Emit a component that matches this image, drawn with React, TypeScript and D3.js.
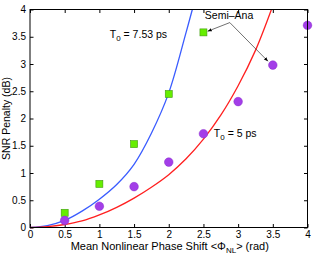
import React, { useEffect, useRef } from "react";
import * as d3 from "d3";

// measured points (semi-analytic)
const sqX = [0.5, 1, 1.5, 2, 2.5];
const sqY = [0.27, 0.8, 1.53, 2.45, 3.58];
const circX = [0.5, 1, 1.5, 2, 2.5, 3, 3.5, 4];
const circY = [0.13, 0.39, 0.75, 1.2, 1.72, 2.31, 2.98, 3.71];

// curves
const blueX = [0, 0.25, 0.5, 0.75, 1, 1.25, 1.5, 1.75, 2, 2.25, 2.34];
const blueY = [0, 0.035, 0.13, 0.3, 0.52, 0.79, 1.16, 1.73, 2.47, 3.58, 4.0];
const redX = [0, 0.25, 0.5, 0.75, 1, 1.25, 1.5, 1.75, 2, 2.25, 2.5, 2.75, 3, 3.25, 3.48];
const redY = [0, 0.015, 0.055, 0.12, 0.23, 0.37, 0.54, 0.74, 0.97, 1.26, 1.62, 2.06, 2.6, 3.25, 4.0];

const xTicks = [0, 0.5, 1, 1.5, 2, 2.5, 3, 3.5, 4];
const yTicks = [0, 0.5, 1, 1.5, 2, 2.5, 3, 3.5, 4];

const App = () => {
  const ref = useRef<HTMLDivElement>(null);

  useEffect(() => {
    const W = 316;
    const H = 258;
    const margin = { top: 9.5, right: 8.5, bottom: 30.5, left: 30 };
    const width = W - margin.left - margin.right;
    const height = H - margin.top - margin.bottom;
    const font = "Liberation Sans, Arial, sans-serif";

    d3.select(ref.current).select("svg").remove();

    const root = d3
      .select(ref.current)
      .append("svg")
      .attr("width", W)
      .attr("height", H)
      .style("position", "absolute")
      .style("left", "0px")
      .style("top", "0px")
      .style("font-family", font);

    root.append("defs")
      .append("marker")
      .attr("id", "arr")
      .attr("viewBox", "0 0 10 10")
      .attr("refX", 10)
      .attr("refY", 5)
      .attr("markerWidth", 6)
      .attr("markerHeight", 6)
      .attr("orient", "auto")
      .append("path")
      .attr("d", "M0,1L10,5L0,9Z")
      .attr("fill", "#000");

    const svg = root
      .append("g")
      .attr("transform", `translate(${margin.left},${margin.top})`);

    const x = d3.scaleLinear().domain([0, 4]).range([0, width]);
    const y = d3.scaleLinear().domain([0, 4]).range([height, 0]);

    svg.append("rect")
      .attr("width", width)
      .attr("height", height)
      .attr("fill", "#fff");

    const tickLen = 3.5;
    const fmt = (d: number) => String(d);

    // bottom axis + top ticks
    const bx = svg.append("g")
      .attr("transform", `translate(0,${height})`)
      .call(d3.axisBottom(x).tickValues(xTicks).tickSize(-tickLen).tickPadding(3).tickFormat((d) => fmt(+d)));
    const tx = svg.append("g")
      .call(d3.axisTop(x).tickValues(xTicks).tickSize(-tickLen).tickFormat(() => ""));
    const ly = svg.append("g")
      .call(d3.axisLeft(y).tickValues(yTicks).tickSize(-tickLen).tickPadding(4).tickFormat((d) => fmt(+d)));
    const ry = svg.append("g")
      .attr("transform", `translate(${width},0)`)
      .call(d3.axisRight(y).tickValues(yTicks).tickSize(-tickLen).tickFormat(() => ""));

    [bx, tx, ly, ry].forEach((g) => {
      g.select(".domain").remove();
      g.selectAll("line").attr("stroke", "#000");
      g.selectAll("text")
        .style("font-family", font)
        .style("font-size", "10px")
        .attr("fill", "#000");
    });

    const line = d3
      .line<[number, number]>()
      .x((d) => x(d[0]))
      .y((d) => y(d[1]))
      .curve(d3.curveCatmullRom.alpha(0.5));

    svg.append("path")
      .datum(blueX.map((v, i) => [v, blueY[i]] as [number, number]))
      .attr("d", line)
      .attr("fill", "none")
      .attr("stroke", "#3a5cff")
      .attr("stroke-width", 1.3);

    svg.append("path")
      .datum(redX.map((v, i) => [v, redY[i]] as [number, number]))
      .attr("d", line)
      .attr("fill", "none")
      .attr("stroke", "#ff1f1f")
      .attr("stroke-width", 1.3);

    const s = 7;
    svg.selectAll(".sq")
      .data(sqX)
      .enter()
      .append("rect")
      .attr("x", (d) => x(d) - s / 2)
      .attr("y", (d, i) => y(sqY[i]) - s / 2)
      .attr("width", s)
      .attr("height", s)
      .attr("fill", "#66ee00")
      .attr("stroke", "#3f9a10")
      .attr("stroke-width", 0.6);

    svg.selectAll(".ci")
      .data(circX)
      .enter()
      .append("circle")
      .attr("cx", (d) => x(d))
      .attr("cy", (d, i) => y(circY[i]))
      .attr("r", 4.3)
      .attr("fill", "#a33ee8")
      .attr("stroke", "#8a2ccc")
      .attr("stroke-width", 0.5);

    // frame
    svg.append("rect")
      .attr("width", width)
      .attr("height", height)
      .attr("fill", "none")
      .attr("stroke", "#000")
      .attr("stroke-width", 1);

    // annotations
    const t1 = svg.append("text")
      .attr("x", x(1.15))
      .attr("y", y(3.48))
      .style("font-size", "10.5px")
      .attr("fill", "#000");
    t1.append("tspan").text("T");
    t1.append("tspan").attr("dy", 3).style("font-size", "8px").text("0");
    t1.append("tspan").attr("dy", -3).text(" = 7.53 ps");

    const t2 = svg.append("text")
      .attr("x", x(2.65))
      .attr("y", y(1.66))
      .style("font-size", "10.5px")
      .attr("fill", "#000");
    t2.append("tspan").text("T");
    t2.append("tspan").attr("dy", 3).style("font-size", "8px").text("0");
    t2.append("tspan").attr("dy", -3).text(" = 5 ps");

    svg.append("text")
      .attr("x", x(2.52))
      .attr("y", y(3.83))
      .style("font-size", "10.5px")
      .attr("fill", "#000")
      .text("Semi\u2013Ana");

    const ax0 = x(2.88);
    const ay0 = y(3.76);
    svg.append("line")
      .attr("x1", ax0).attr("y1", ay0)
      .attr("x2", x(2.56)).attr("y2", y(3.6))
      .attr("stroke", "#333").attr("stroke-width", 0.7)
      .attr("marker-end", "url(#arr)");
    svg.append("line")
      .attr("x1", ax0).attr("y1", ay0)
      .attr("x2", x(3.43)).attr("y2", y(3.05))
      .attr("stroke", "#333").attr("stroke-width", 0.7)
      .attr("marker-end", "url(#arr)");

    // axis titles
    const xl = root.append("text")
      .attr("x", margin.left + width / 2 + 1)
      .attr("y", 250)
      .attr("text-anchor", "middle")
      .style("font-size", "11px")
      .attr("fill", "#000");
    xl.append("tspan").text("Mean Nonlinear Phase Shift <\u03A6");
    xl.append("tspan").attr("dy", 3).style("font-size", "8px").text("NL");
    xl.append("tspan").attr("dy", -3).text("> (rad)");

    root.append("text")
      .attr("transform", `translate(10,${margin.top + height / 2}) rotate(-90)`)
      .attr("text-anchor", "middle")
      .style("font-size", "10.5px")
      .attr("fill", "#000")
      .text("SNR Penalty (dB)");
  }, []);

  return <div ref={ref}></div>;
};

export default App;
